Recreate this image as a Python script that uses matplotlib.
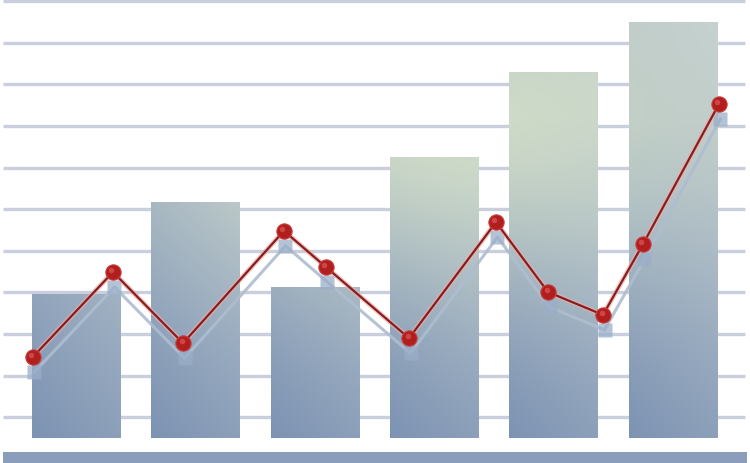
import numpy as np
import matplotlib
matplotlib.use("Agg")
import matplotlib.pyplot as plt
import matplotlib.transforms as mtransforms
from matplotlib.colors import to_rgb

# ---- data ----
categories = [0, 1, 2, 3, 4, 5]
bar_values = [34.6, 56.7, 36.3, 67.5, 88.0, 100.0]
line_x = [-0.365, 0.306, 0.893, 1.739, 2.091, 2.787, 3.516, 3.952, 4.413, 4.748, 5.385]
line_y = [19.5, 39.9, 22.8, 49.8, 41.1, 24.0, 51.9, 35.1, 29.6, 46.6, 80.3]
grid_levels = [5, 15, 25, 35, 45, 55, 65, 75, 85, 95, 105]

W, H, DPI = 7.5, 4.63, 100
fig = plt.figure(figsize=(W, H), dpi=DPI)
ax = fig.add_axes([0, 0, 1, 1])
XMIN, XMAX = -0.641, 5.645
YMIN, YMAX = -6.0, 105.3
ax.set_xlim(XMIN, XMAX)
ax.set_ylim(YMIN, YMAX)
ax.axis("off")
fig.patch.set_facecolor("white")

# grid lines
for g in grid_levels:
    ax.plot([-0.616, 5.604], [g, g], color="#c9cfdc", lw=2.4, solid_capstyle="butt", zorder=1)

# base band
ax.axhspan(-6.2, -3.4, xmin=(-0.616 - XMIN) / (XMAX - XMIN), xmax=(5.62 - XMIN) / (XMAX - XMIN),
           color="#8a9ebb", zorder=1, lw=0)

# bars with gradient fill
bars = ax.bar(categories, bar_values, width=0.745, bottom=0, color="none", zorder=2, lw=0)
low = np.array(to_rgb("#7d93b3"))
high = np.array(to_rgb("#d6e2c8"))
mid = np.array(to_rgb("#c2cdd2"))
ny, nx = 300, 400
xs = np.linspace(XMIN, XMAX, nx)
ys = np.linspace(YMIN, YMAX, ny)
X, Y = np.meshgrid(xs, ys)
for b in bars:
    x0 = b.get_x(); w = b.get_width()
    hpos = np.clip((X - x0) / w, 0, 1)
    v = np.clip(Y / 100.0, 0, 1)
    t = 0.78 * v + 0.22 * hpos
    green = np.exp(-((X - 3.1) / 2.4) ** 2 - ((Y - 70) / 45) ** 2)
    t = np.clip(t, 0, 1)[..., None]
    base = low + (mid - low) * t
    g = (green * np.clip(v * 1.3, 0, 1))[..., None]
    img = base * (1 - g * 0.9) + high * (g * 0.9)
    im = ax.imshow(img, extent=[XMIN, XMAX, YMIN, YMAX], origin="lower",
                   aspect="auto", zorder=2, interpolation="bilinear")
    im.set_clip_path(b)

# shadow of line
shadow_tr = mtransforms.offset_copy(ax.transData, fig=fig, x=1.5, y=-15, units="dots")
ax.plot(line_x, line_y, color="#aebdd0", lw=2.2, transform=shadow_tr, zorder=3, alpha=0.9)
ax.plot(line_x, line_y, "s", color="#9aaec8", ms=10, mec="none", transform=shadow_tr, zorder=3, alpha=0.75)

# main line
ax.plot(line_x, line_y, color="#e8b0b0", lw=3.6, zorder=4, alpha=0.7)
ax.plot(line_x, line_y, color="#8a1c1c", lw=1.6, zorder=5)
ax.plot(line_x, line_y, "o", color="#b01e1e", ms=11, mec="#c84040", mew=0.8, zorder=6)
hl_tr = mtransforms.offset_copy(ax.transData, fig=fig, x=-1.5, y=2, units="dots")
ax.plot(line_x, line_y, "o", color="#d85050", ms=4, mec="none", transform=hl_tr, zorder=7, alpha=0.8)

fig.savefig("out.png", dpi=DPI, facecolor="white")
